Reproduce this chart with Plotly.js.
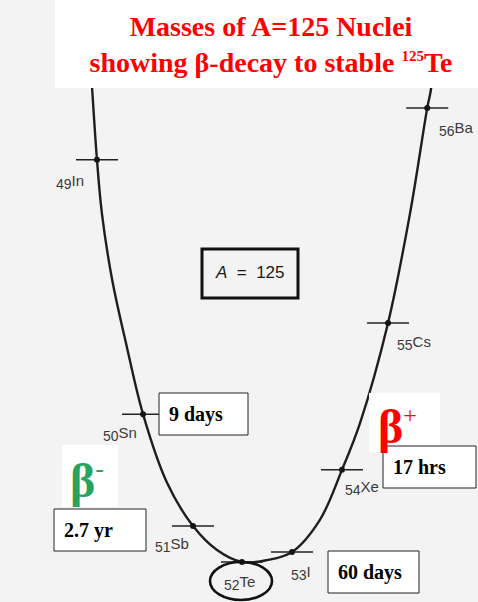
<!DOCTYPE html>
<html>
<head>
<meta charset="utf-8">
<script src="https://cdn.plot.ly/plotly-3.0.1.min.js"></script>
<style>html,body{margin:0;padding:0;background:#f3f3f3;}#chart{width:478px;height:602px;}</style>
</head>
<body>
<div id="chart"></div>
<script>
// ---- data ----
// nuclei of the A=125 isobar chain
const nuclei   = ["In", "Sn", "Sb", "Te", "I", "Xe", "Cs", "Ba"];
const protonZ  = [49, 50, 51, 52, 53, 54, 55, 56];
// horizontal position of each mark on the drawing (Z units, as drawn)
const nucX     = [49.04, 49.98, 51.0, 52.0, 53.02, 54.04, 54.98, 55.78];
// mass relative to 125Te (MeV, as drawn)
const nucY     = [8.38, 3.08, 0.75, 0.0, 0.21, 1.92, 4.98, 9.46];
// traced points along the drawn mass parabola
const curveX   = [48.88, 48.94, 49.04, 49.14, 49.35, 49.65, 49.98, 50.47, 51.0, 51.49, 52.0, 52.51, 53.02, 53.59, 54.04, 54.41, 54.98, 55.43, 55.78, 55.86, 55.90];
const curveY   = [10.88, 9.88, 8.38, 7.27, 5.88, 4.48, 3.08, 1.65, 0.75, 0.25, 0.0, 0.04, 0.21, 0.88, 1.92, 2.90, 4.98, 7.27, 9.46, 9.88, 10.88];
// half-lives shown in boxes
const halfLives = ["9 days", "2.7 yr", "17 hrs", "60 days"];
const massLabel = "A = 125";

// ---- layout helpers (pixel -> paper) ----
const W = 478, H = 602;
const px = v => v / W;
const py = v => 1 - v / H;
function rect(x0, y0, x1, y1, o) {
  return Object.assign({type: "rect", xref: "paper", yref: "paper",
    x0: px(x0), x1: px(x1), y0: py(y1), y1: py(y0),
    line: {color: "#111", width: 1}, fillcolor: "rgba(0,0,0,0)"}, o || {});
}

const labelShift = [[-27, 22], [-23, 20], [-21, 19], [-3, 21], [9, 21], [20, 18], [26, 20], [29, 21]];

const traces = [
  {x: curveX, y: curveY, mode: "lines", type: "scatter", hoverinfo: "skip",
   line: {shape: "spline", smoothing: 1, color: "#1e1e1e", width: 2.4}},
  {x: nucX, y: nucY, mode: "markers", type: "scatter", hoverinfo: "skip",
   marker: {symbol: "line-ew", size: 30, line: {width: 1.5, color: "#222"}}},
  {x: nucX, y: nucY, mode: "markers", type: "scatter", hoverinfo: "skip",
   marker: {symbol: "circle", size: 6, color: "#151515"}}
];

const annotations = nuclei.map((el, i) => ({
  x: nucX[i], y: nucY[i], xref: "x", yref: "y",
  text: "<sub><span style=\"font-size:14px\">" + protonZ[i] + "</span></sub>" + el, showarrow: false,
  xanchor: "center", yanchor: "middle",
  xshift: labelShift[i][0], yshift: -labelShift[i][1],
  font: {family: "Liberation Sans, Arial, sans-serif", size: 15, color: "#3a3a3a"}
}));

const serifBold = {family: "Liberation Serif, Times New Roman, serif", size: 20, color: "#000"};
const boxes = [
  [159, 393, 248, 435],
  [54, 509, 146, 551],
  [383, 446, 476, 488],
  [328, 551, 419, 593]
];
halfLives.forEach((t, i) => {
  const b = boxes[i];
  annotations.push({xref: "paper", yref: "paper", x: px(b[0] + 8), y: py((b[1] + b[3]) / 2),
    xanchor: "left", yanchor: "middle", showarrow: false, text: "<b>" + t + "</b>", font: serifBold});
});

annotations.push({xref: "paper", yref: "paper", x: px(250), y: py(272), xanchor: "center", yanchor: "middle",
  showarrow: false, text: "<i>A</i>  =  " + massLabel.split("= ")[1],
  font: {family: "Liberation Sans, Arial, sans-serif", size: 17, color: "#1a1a1a"}});

annotations.push({xref: "paper", yref: "paper", x: px(68), y: py(480), xanchor: "left", yanchor: "middle",
  showarrow: false, text: "<b>β</b><sup><span style=\"font-size:26px\">-</span></sup>",
  font: {family: "Liberation Serif, Times New Roman, serif", size: 48, color: "#27a35f"}});
annotations.push({xref: "paper", yref: "paper", x: px(376), y: py(426), xanchor: "left", yanchor: "middle",
  showarrow: false, text: "<b>β</b><sup><span style=\"font-size:24px\">+</span></sup>",
  font: {family: "Liberation Serif, Times New Roman, serif", size: 48, color: "#ff0000"}});

const shapes = [
  rect(55, -2, 480, 88, {fillcolor: "#ffffff", line: {width: 0}}),
  rect(62, 445, 118, 507, {fillcolor: "#ffffff", line: {width: 0}}),
  rect(369, 393, 440, 452, {fillcolor: "#ffffff", line: {width: 0}}),
  rect(202, 249, 298, 298, {line: {color: "#111", width: 3}})
];
boxes.forEach(b => shapes.push(rect(b[0], b[1], b[2], b[3], {fillcolor: "#ffffff", line: {color: "#222", width: 1}})));
shapes.push({type: "circle", xref: "paper", yref: "paper",
  x0: px(210), x1: px(272), y0: py(600), y1: py(562),
  line: {color: "#111", width: 2.6}});

const layout = {
  width: W, height: H,
  margin: {l: 0, r: 0, t: 0, b: 0},
  paper_bgcolor: "#f3f3f3", plot_bgcolor: "rgba(0,0,0,0)",
  showlegend: false,
  title: {
    text: "<b>Masses of A=125 Nuclei<br>showing β-decay to stable <sup><span style=\"font-size:15px\">125</span></sup>Te</b>",
    x: 271 / W, xanchor: "center", xref: "paper",
    y: py(36), yanchor: "middle", yref: "paper",
    font: {family: "Liberation Serif, Times New Roman, serif", size: 28, color: "#ff0000"}
  },
  xaxis: {range: [47.061, 56.816], visible: false, fixedrange: true},
  yaxis: {range: [-0.833, 11.708], visible: false, fixedrange: true},
  shapes: shapes,
  annotations: annotations
};

Plotly.newPlot("chart", traces, layout, {staticPlot: true, displayModeBar: false});
</script>
</body>
</html>
